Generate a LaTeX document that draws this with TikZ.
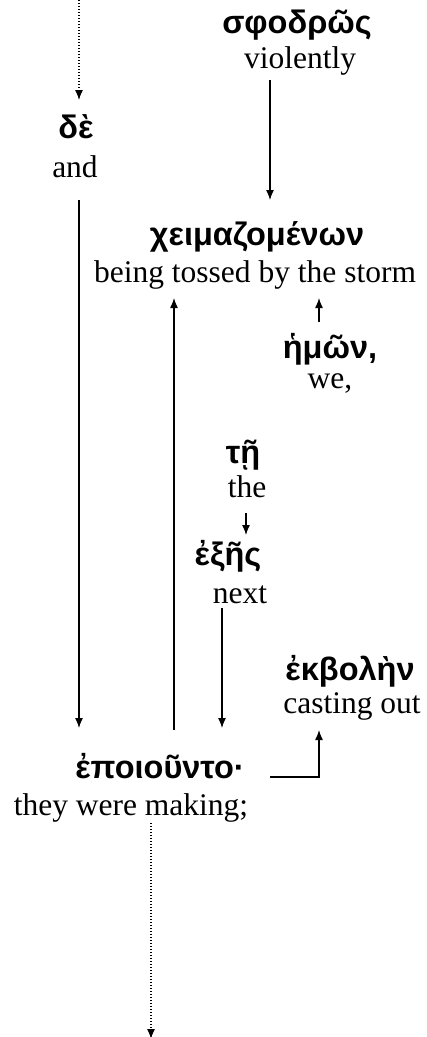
\documentclass[tikz,border=0pt]{standalone}
\usepackage{fontspec}
\setmainfont{Liberation Serif}
\newfontfamily\grk{Liberation Sans}
\usetikzlibrary{arrows.meta,calc}
\begin{document}
\begin{tikzpicture}[x=1pt,y=-1pt,
  en/.style={font=\fontsize{31.5}{36}\selectfont, inner sep=0pt, anchor=base},
  gr/.style={font=\fontsize{32.5}{38}\selectfont\grk\bfseries, inner sep=0pt, anchor=base},
  arr/.style={line width=1.3pt, -{Latex[length=10pt,width=8pt]}},
  dotarr/.style={arr, dash pattern=on 1.3pt off 1.7pt}]
\useasboundingbox (0,0) rectangle (427,1037);
% nodes
\node[gr] (sph) at (297,33) {σφοδρῶς};
\node[en] (viol) at (300,68) {violently};
\node[gr] (de) at (76,138) {δὲ};
\node[en] (and) at (75,177) {and};
\node[gr] (cheim) at (257,245) {χειμαζομένων};
\node[en] (storm) at (255,282) {being tossed by the storm};
\node[gr] (hemon) at (330,358) {ἡμῶν,};
\node[en] (we) at (330,388) {we,};
\node[gr] (te) at (243,463) {τῇ};
\node[en] (the) at (247,497) {the};
\node[gr] (exes) at (228,565) {ἐξῆς};
\node[en] (next) at (240,603) {next};
\node[gr] (ekb) at (350,680) {ἐκβολὴν};
\node[en] (cast) at (352,713) {casting out};
\node[gr] (epoi) at (160,778) {ἐποιοῦντο·};
\node[en] (they) at (131,815) {they were making;};
\coordinate (topin) at (79,0);
\coordinate (botout) at (151,1039);
% connectors
\draw[dotarr] (topin) -- ($(de.base)+(3,-38)$);
\draw[arr] ($(and.base)+(4,23)$) -- ($(epoi.base)+(-81,-50)$);
\draw[arr] ($(viol.base)+(-30,12)$) -- ($(cheim.base)+(13,-45)$);
\draw[arr] ($(hemon.base)+(-11,-36)$) -- ($(storm.base)+(64,16)$);
\draw[arr] ($(epoi.base)+(14,-48)$) -- ($(storm.base)+(-81,16)$);
\draw[arr] ($(the.base)+(-1,16)$) -- ($(exes.base)+(18,-30)$);
\draw[arr] ($(next.base)+(-18,5)$) -- ($(epoi.base)+(62,-50)$);
\draw[arr] ($(epoi.base)+(110,-1)$) -| ($(cast.base)+(-33,17)$);
\draw[dotarr] ($(they.base)+(20,8)$) -- (botout);
\end{tikzpicture}
\end{document}
